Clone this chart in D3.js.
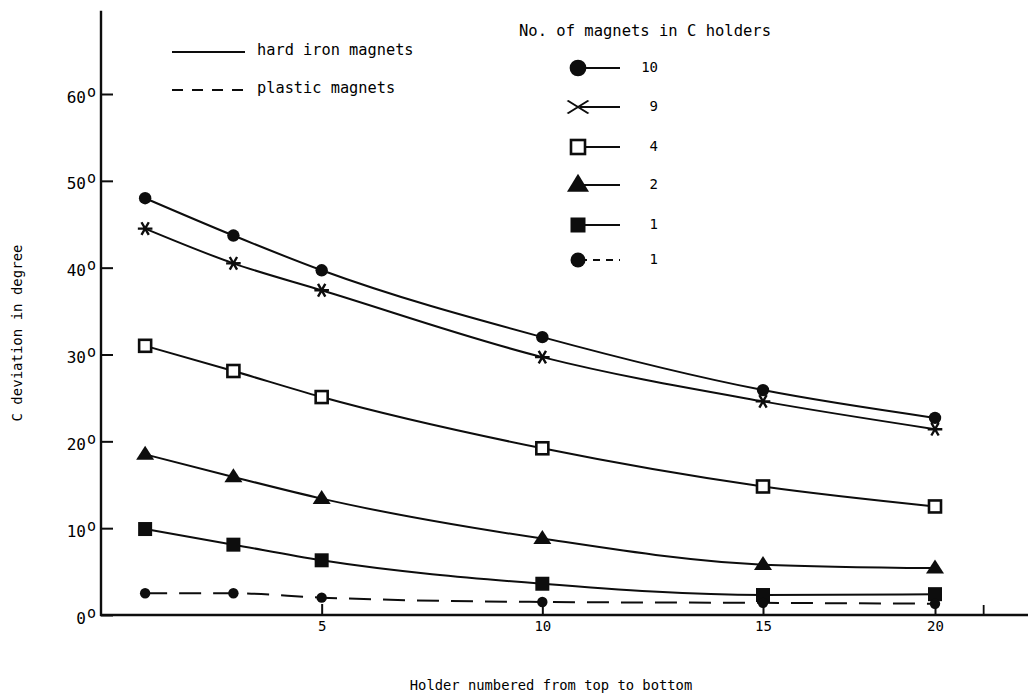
<!DOCTYPE html>
<html>
<head>
<meta charset="utf-8">
<script src="https://cdn.jsdelivr.net/npm/d3@7"></script>
<style>
  html, body { margin: 0; padding: 0; background: #fff; }
  svg { display: block; }
  text { font-family: "DejaVu Sans Mono", "Liberation Mono", monospace; fill: #000; }
</style>
</head>
<body>
<svg id="chart" width="1028" height="694"></svg>
<script>
// ---- data ----
const holders   = [1, 3, 5, 10, 15, 20];
const magnets10 = [48.0, 43.7, 39.7, 32.0, 25.9, 22.7];
const magnets9  = [44.5, 40.5, 37.4, 29.7, 24.6, 21.4];
const magnets4  = [31.0, 28.1, 25.1, 19.2, 14.8, 12.5];
const magnets2  = [18.5, 15.9, 13.4, 8.8, 5.8, 5.4];
const magnets1  = [9.9, 8.1, 6.3, 3.6, 2.3, 2.4];
const plastic1  = [2.5, 2.5, 2.0, 1.5, 1.4, 1.3];

const yTicks = [0, 10, 20, 30, 40, 50, 60];
const xTicks = [5, 10, 15, 20];
const xExtraTick = [21.4];

const seriesLabels = ["10", "9", "4", "2", "1", "1"];
const typeLabels = ["hard iron magnets", "plastic magnets"];
const legendTitle = "No. of magnets in C holders";
const xTitle = "Holder numbered from top to bottom";
const yTitle = "C deviation in degree";

// ---- layout ----
const svg = d3.select("#chart");
const ink = "#0d0d0d";

// hand-drawn axis: last interval is compressed, so the scale is piecewise linear
const x = d3.scaleLinear().domain([0, 15, 20]).range([101, 763, 935]);
const y = d3.scaleLinear().domain([0, 60]).range([615, 94]);
const yTop = 69.6;

const series = [
  { key: "magnets10", values: magnets10, marker: "dot",      dashed: false },
  { key: "magnets9",  values: magnets9,  marker: "asterisk", dashed: false },
  { key: "magnets4",  values: magnets4,  marker: "osquare",  dashed: false },
  { key: "magnets2",  values: magnets2,  marker: "triangle", dashed: false },
  { key: "magnets1",  values: magnets1,  marker: "square",   dashed: false },
  { key: "plastic1",  values: plastic1,  marker: "smalldot", dashed: true  }
];

// ---- axes ----
const yAxis = d3.axisLeft(y).tickValues(yTicks).tickSize(-12).tickSizeOuter(0).tickFormat("");
const gy = svg.append("g").attr("transform", `translate(${x(0)},0)`).call(yAxis);
gy.select(".domain").remove();
gy.selectAll(".tick line").attr("stroke", ink).attr("stroke-width", 2);
gy.selectAll(".tick").append("text")
  .attr("x", -5).attr("dy", "0.5em")
  .attr("text-anchor", "end")
  .style("font-size", "16px")
  .each(function(d) {
    const t = d3.select(this);
    t.append("tspan").text(d);
    t.append("tspan").text("o").attr("dy", "-0.4em").attr("dx", "1").style("font-size", "15px");
  });

svg.append("line")
  .attr("x1", x(0)).attr("x2", x(0))
  .attr("y1", y(0) + 1).attr("y2", y(yTop))
  .attr("stroke", ink).attr("stroke-width", 2.4);

const xAxis = d3.axisBottom(x).tickValues(xTicks).tickSize(-11).tickSizeOuter(0).tickPadding(6).tickFormat(d3.format("d"));
const gx = svg.append("g").attr("transform", `translate(0,${y(0)})`).call(xAxis);
gx.select(".domain").remove();
gx.selectAll(".tick line").attr("stroke", ink).attr("stroke-width", 2);
gx.selectAll(".tick text").attr("dy", "0.71em").attr("y", 6).style("font-size", "14px").attr("fill", "#000");

const gx2 = svg.append("g").attr("transform", `translate(0,${y(0)})`)
  .call(d3.axisBottom(x).tickValues(xExtraTick).tickSize(-10).tickFormat(""));
gx2.select(".domain").remove();
gx2.selectAll(".tick line").attr("stroke", ink).attr("stroke-width", 1.8);

svg.append("line")
  .attr("x1", x(0) - 1).attr("x2", 1028)
  .attr("y1", y(0)).attr("y2", y(0))
  .attr("stroke", ink).attr("stroke-width", 2.4);

// axis titles
svg.append("text")
  .attr("x", 551).attr("y", 690)
  .attr("text-anchor", "middle")
  .style("font-size", "13.8px")
  .text(xTitle);

svg.append("text")
  .attr("transform", `translate(22,${333}) rotate(-90)`)
  .attr("text-anchor", "middle")
  .style("font-size", "14px")
  .text(yTitle);

// ---- lines ----
const line = d3.line()
  .x((d, i) => x(holders[i]))
  .y(d => y(d))
  .curve(d3.curveMonotoneX);

series.forEach(s => {
  svg.append("path")
    .datum(s.values)
    .attr("d", line)
    .attr("fill", "none")
    .attr("stroke", ink)
    .attr("stroke-width", 2)
    .attr("stroke-dasharray", s.dashed ? "22,12" : null);
});

// ---- markers ----
function drawMarker(g, type, cx, cy, big) {
  const k = big ? 1.35 : 1;
  switch (type) {
    case "dot":
      g.append("circle").attr("cx", cx).attr("cy", cy).attr("r", 6.2 * k).attr("fill", ink);
      break;
    case "smalldot":
      g.append("circle").attr("cx", cx).attr("cy", cy).attr("r", (big ? 7.5 : 5.2)).attr("fill", ink);
      break;
    case "asterisk":
      if (big) {
        g.append("path")
          .attr("d", d3.symbol(d3.symbolTimes, 200)())
          .attr("transform", `translate(${cx},${cy}) scale(1.2,0.75)`)
          .attr("fill", "none").attr("stroke", ink).attr("stroke-width", 2.2);
      } else {
        g.append("path")
          .attr("d", d3.symbol(d3.symbolAsterisk, 150)())
          .attr("transform", `translate(${cx},${cy}) rotate(30)`)
          .attr("fill", "none").attr("stroke", ink).attr("stroke-width", 2.4);
      }
      break;
    case "osquare": {
      const s = big ? 14 : 12;
      g.append("rect").attr("x", cx - s / 2).attr("y", cy - s / 2).attr("width", s).attr("height", s)
        .attr("fill", "#fff").attr("stroke", ink).attr("stroke-width", 2.6);
      break;
    }
    case "square": {
      const s = big ? 15 : 14;
      g.append("rect").attr("x", cx - s / 2).attr("y", cy - s / 2).attr("width", s).attr("height", s)
        .attr("fill", ink);
      break;
    }
    case "triangle": {
      const w = big ? 22 : 18, h = big ? 18 : 14;
      g.append("path")
        .attr("d", `M${cx},${cy - h * 0.62}L${cx + w / 2},${cy + h * 0.38}L${cx - w / 2},${cy + h * 0.38}Z`)
        .attr("fill", ink);
      break;
    }
  }
}

const gm = svg.append("g");
series.forEach(s => {
  s.values.forEach((v, i) => drawMarker(gm, s.marker, x(holders[i]), y(v), false));
});

// ---- legend: line styles ----
const leg1 = svg.append("g");
const leg1Rows = [52, 90];
typeLabels.forEach((t, i) => {
  leg1.append("line")
    .attr("x1", 172).attr("x2", 245)
    .attr("y1", leg1Rows[i]).attr("y2", leg1Rows[i])
    .attr("stroke", ink).attr("stroke-width", 2)
    .attr("stroke-dasharray", i === 1 ? "11,9" : null);
  leg1.append("text")
    .attr("x", 257).attr("y", leg1Rows[i] + 3)
    .style("font-size", "15.3px")
    .text(t);
});

// ---- legend: markers ----
const leg2 = svg.append("g");
leg2.append("text").attr("x", 519).attr("y", 36).style("font-size", "15.5px").text(legendTitle);
const leg2Rows = [68, 107, 147, 185, 225, 260];
series.forEach((s, i) => {
  const ry = leg2Rows[i];
  leg2.append("line")
    .attr("x1", 580).attr("x2", 620)
    .attr("y1", ry).attr("y2", ry)
    .attr("stroke", ink).attr("stroke-width", 2)
    .attr("stroke-dasharray", s.dashed ? "7,6" : null);
  drawMarker(leg2, s.marker, 578, ry, true);
  leg2.append("text")
    .attr("x", 658).attr("y", ry - 1)
    .attr("dy", "0.35em")
    .attr("text-anchor", "end")
    .style("font-size", "14px")
    .text(seriesLabels[i]);
});
</script>
</body>
</html>
